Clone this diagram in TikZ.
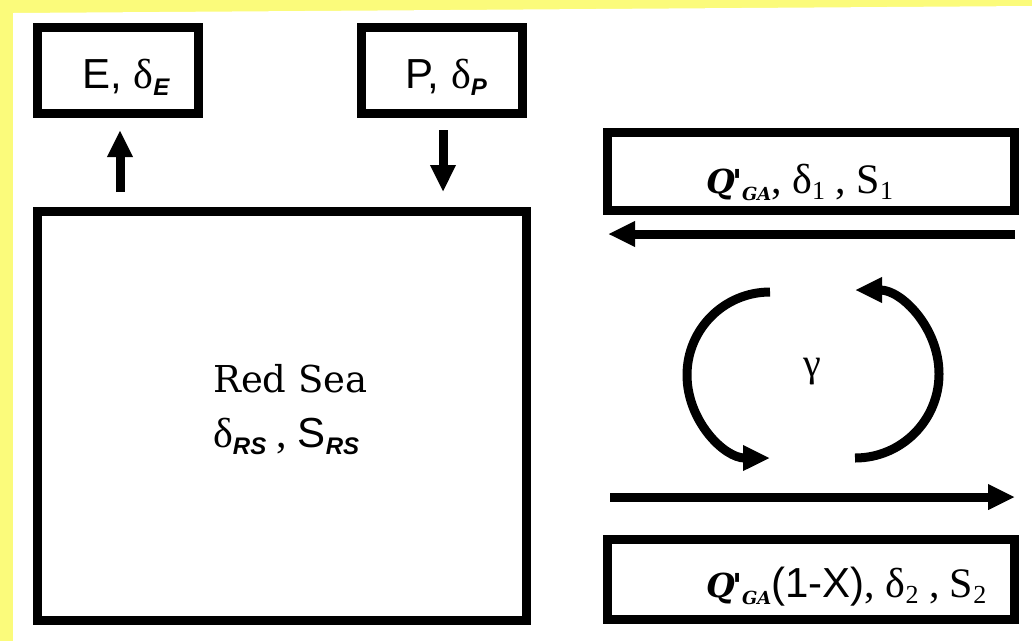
\documentclass[tikz,border=0pt]{standalone}
\usepackage{fontspec}
\newfontfamily\helv{Liberation Sans}
\newfontfamily\tims{Liberation Serif}
\newfontfamily\schl{DejaVu Serif}
\usetikzlibrary{arrows.meta}
\definecolor{bgyel}{HTML}{FBFB7B}
% subscripts: bold italic sans, and plain serif
\newcommand{\hsub}[1]{\raisebox{-7pt}{\fontsize{24}{24}\selectfont\helv\bfseries\itshape #1}}
\newcommand{\tsub}[1]{\raisebox{-6pt}{\fontsize{26}{26}\selectfont\tims #1}}
\newcommand{\qga}{{\schl\bfseries\itshape\fontsize{33}{33}\selectfont Q\kern-2pt'\kern-1pt\raisebox{-7pt}{\fontsize{18}{18}\selectfont GA}}}
\begin{document}
\begin{tikzpicture}[x=1pt, y=1pt,
  box/.style={draw, line width=9pt, inner sep=0pt},
  flow/.style={line width=9pt, -{Triangle[length=27pt, width=24pt]}},
  txt/.style={inner sep=0pt, anchor=base west, font=\fontsize{42}{46}\selectfont}]
\fill[bgyel] (0,0) rectangle (1032,-641);
\fill[white] (13,-13) -- (1032,-6) -- (1032,-641) -- (13,-641) -- cycle;
\useasboundingbox (0,0) rectangle (1032,-641);
% left: Red Sea with E and P
\node[box, minimum width=161pt, minimum height=86pt] (ebox) at (118,-70.5) {};
\node[box, minimum width=161pt, minimum height=86pt] (pbox) at (442,-70.5) {};
\node[box, minimum width=489pt, minimum height=409pt] (rs) at (282,-416) {};
\node[txt] (etxt) at (82,-88) {\helv E, \tims δ\hsub{E}};
\node[txt] (ptxt) at (405,-88) {\helv P, \tims δ\hsub{P}};
\node[txt, font=\fontsize{37}{40}\selectfont\schl] (rname) at (213,-392) {Red Sea};
\node[txt] (rvar) at (213,-447) {\tims δ\hsub{RS}\ , \helv S\hsub{RS}};
\coordinate (efrom) at (120,-192); \coordinate (eto) at (120,-130);
\coordinate (pfrom) at (443,-130); \coordinate (pto) at (443,-192);
\draw[flow] (efrom) -- (eto);
\draw[flow] (pfrom) -- (pto);
% right: exchange with the Gulf of Aden
\node[box, minimum width=407pt, minimum height=78pt] (q1) at (811,-171.5) {};
\node[box, minimum width=407pt, minimum height=80pt] (q2) at (811,-579.5) {};
\node[txt] (q1txt) at (706,-193) {\qga\tims, δ\tsub{1} , S\tsub{1}};
\node[txt] (q2txt) at (706,-597) {\qga\helv(1-X)\tims, δ\tsub{2} , S\tsub{2}};
\coordinate (infrom) at (1015,-234); \coordinate (into) at (608,-234);
\coordinate (outfrom) at (610,-497); \coordinate (outto) at (1015,-497);
\draw[flow] (infrom) -- (into);
\draw[flow] (outfrom) -- (outto);
\node[font=\fontsize{40}{44}\selectfont\tims] (gam) at (812,-372) {γ};
\coordinate (ltop) at (770,-292); \coordinate (rbot) at (855,-458);
\draw[flow] (ltop) arc[start angle=90, end angle=270, radius=83];
\draw[flow] (rbot) arc[start angle=-90, end angle=90, radius=84];
\end{tikzpicture}
\end{document}
